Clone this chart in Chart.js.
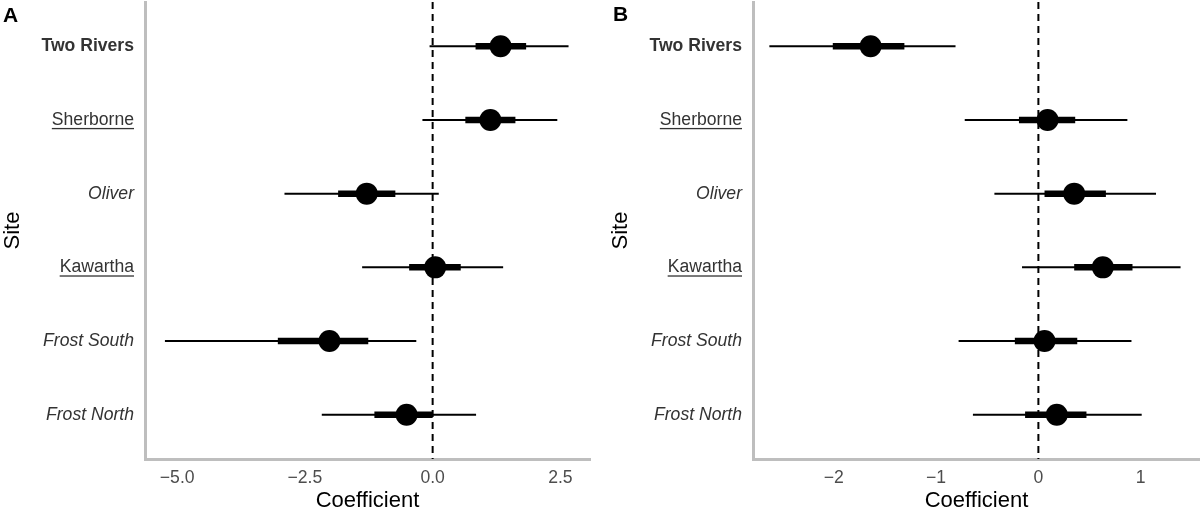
<!DOCTYPE html>
<html>
<head>
<meta charset="utf-8">
<title>Site coefficients</title>
<script src="https://cdn.jsdelivr.net/npm/chart.js@4.4.1/dist/chart.umd.min.js"></script>
<style>
    html, body { margin: 0; padding: 0; background: #fff; }
    .figure { display: flex; width: 1200px; height: 510px; }
    .panel { position: relative; width: 600px; height: 510px; }
    .tag {
        position: absolute;
        font: bold 21px 'Liberation Sans', Arial, Helvetica, sans-serif;
        line-height: 1;
        color: #000;
        z-index: 2;
    }
</style>
</head>
<body>
<div class="figure">
    <div class="panel">
        <canvas id="chartA" width="600" height="510"></canvas>
        <span class="tag" style="left:3px; top:4px;">A</span>
    </div>
    <div class="panel">
        <canvas id="chartB" width="600" height="510"></canvas>
        <span class="tag" style="left:13px; top:3px;">B</span>
    </div>
</div>

<script>
// Sites, top to bottom
const sites = ['Two Rivers', 'Sherborne', 'Oliver', 'Kawartha', 'Frost South', 'Frost North'];
const siteStyles = ['bold', 'underline', 'italic', 'underline', 'italic', 'italic'];

// Panel A - estimate, inner (thick) and outer (thin) intervals
const estA     = [1.33, 1.13, -1.29, 0.05, -2.02, -0.51];
const innerLoA = [0.84, 0.64, -1.85, -0.46, -3.03, -1.14];
const innerHiA = [1.83, 1.62, -0.73, 0.55, -1.26, 0.00];
const outerLoA = [-0.06, -0.20, -2.90, -1.38, -5.24, -2.17];
const outerHiA = [2.66, 2.44, 0.12, 1.38, -0.32, 0.85];
const ticksA   = [-5, -2.5, 0, 2.5];

// Panel B
const estB     = [-1.64, 0.09, 0.35, 0.63, 0.06, 0.18];
const innerLoB = [-2.01, -0.19, 0.06, 0.35, -0.23, -0.13];
const innerHiB = [-1.31, 0.36, 0.66, 0.92, 0.38, 0.47];
const outerLoB = [-2.63, -0.72, -0.43, -0.16, -0.78, -0.64];
const outerHiB = [-0.81, 0.87, 1.15, 1.39, 0.91, 1.01];
const ticksB   = [-2, -1, 0, 1];

const FONT = "'Liberation Sans', Arial, Helvetica, sans-serif";
const LABEL_COLOR = '#333333';
const TICK_COLOR = '#4d4d4d';
const AXIS_COLOR = '#bebebe';

// minus sign the way ggplot prints it
function fmt(v, digits) {
    const s = Math.abs(v).toFixed(digits);
    return v < 0 ? '\u2212' + s : s;
}

// one horizontal segment per site
function intervalSets(lo, hi, width, order) {
    return sites.map((s, i) => ({
        label: s,
        data: [{ x: lo[i], y: i + 1 }, { x: hi[i], y: i + 1 }],
        showLine: true,
        borderColor: '#000',
        borderWidth: width,
        borderCapStyle: 'butt',
        pointRadius: 0,
        order: order
    }));
}

// underline for some site labels (canvas text has no underline)
const underlinePlugin = {
    id: 'underlineSites',
    afterDraw(chart) {
        const ys = chart.scales.y;
        const c = chart.ctx;
        c.save();
        c.font = `17.6px ${FONT}`;
        c.fillStyle = LABEL_COLOR;
        siteStyles.forEach((st, i) => {
            if (st !== 'underline') return;
            const w = c.measureText(sites[i]).width;
            const xr = ys.right - ys.options.ticks.padding;
            const y = ys.getPixelForValue(i + 1) + 8;
            c.fillRect(xr - w, y, w, 1.3);
        });
        c.restore();
    }
};

function buildPanel(id, cfg) {
    const datasets = [
        {
            label: 'zero',
            data: [{ x: 0, y: 0.4 }, { x: 0, y: 6.6 }],
            showLine: true,
            borderColor: '#000',
            borderWidth: 2,
            borderDash: [7, 5],
            pointRadius: 0,
            order: 4
        },
        ...intervalSets(cfg.outerLo, cfg.outerHi, 2, 3),
        ...intervalSets(cfg.innerLo, cfg.innerHi, 6.5, 2),
        {
            label: 'estimate',
            data: cfg.est.map((v, i) => ({ x: v, y: i + 1 })),
            pointRadius: 11,
            pointBackgroundColor: '#000',
            pointBorderWidth: 0,
            showLine: false,
            order: 1
        }
    ];

    return new Chart(document.getElementById(id), {
        type: 'scatter',
        data: { datasets: datasets },
        plugins: [underlinePlugin],
        options: {
            responsive: false,
            animation: false,
            layout: { padding: cfg.padding, autoPadding: false },
            plugins: {
                legend: { display: false },
                tooltip: { enabled: false }
            },
            scales: {
                x: {
                    type: 'linear',
                    min: cfg.xMin,
                    max: cfg.xMax,
                    afterBuildTicks: (scale) => { scale.ticks = cfg.ticks.map(v => ({ value: v })); },
                    afterFit: (scale) => {
                        scale.height = 51;
                        scale.paddingLeft = 0;
                        scale.paddingRight = 0;
                    },
                    grid: { display: false, drawTicks: false },
                    border: { display: true, color: AXIS_COLOR, width: 3 },
                    ticks: {
                        autoSkip: false,
                        maxRotation: 0,
                        padding: 9,
                        color: TICK_COLOR,
                        font: { family: FONT, size: 17.6 },
                        callback: (v) => fmt(v, cfg.digits)
                    },
                    title: {
                        display: true,
                        text: 'Coefficient',
                        color: '#000',
                        font: { family: FONT, size: 22, lineHeight: 0.8 },
                        padding: { top: 0, bottom: 0 }
                    }
                },
                y: {
                    type: 'linear',
                    reverse: true,
                    min: 0.4,
                    max: 6.6,
                    afterBuildTicks: (scale) => { scale.ticks = sites.map((s, i) => ({ value: i + 1 })); },
                    afterFit: (scale) => {
                        scale.width = 145;
                        scale.paddingTop = 0;
                        scale.paddingBottom = 0;
                    },
                    grid: { display: false, drawTicks: false },
                    border: { display: true, color: AXIS_COLOR, width: 3 },
                    ticks: {
                        autoSkip: false,
                        padding: 11,
                        color: LABEL_COLOR,
                        font: (ctx) => {
                            const st = siteStyles[ctx.index];
                            return {
                                family: FONT,
                                size: 17.6,
                                weight: st === 'bold' ? 'bold' : 'normal',
                                style: st === 'italic' ? 'italic' : 'normal'
                            };
                        },
                        callback: (v) => sites[Math.round(v) - 1]
                    },
                    title: {
                        display: true,
                        text: 'Site',
                        color: '#000',
                        font: { family: FONT, size: 22 },
                        padding: { top: 0, bottom: 0 }
                    }
                }
            }
        }
    });
}

buildPanel('chartA', {
    est: estA, innerLo: innerLoA, innerHi: innerHiA, outerLo: outerLoA, outerHi: outerHiA,
    xMin: -5.63, xMax: 3.08, ticks: ticksA, digits: 1,
    padding: { left: 0, right: 10, top: 2, bottom: 0 }
});

buildPanel('chartB', {
    est: estB, innerLo: innerLoB, innerHi: innerHiB, outerLo: outerLoB, outerHi: outerHiB,
    xMin: -2.79, xMax: 1.58, ticks: ticksB, digits: 0,
    padding: { left: 8, right: 0, top: 2, bottom: 0 }
});
</script>
</body>
</html>
